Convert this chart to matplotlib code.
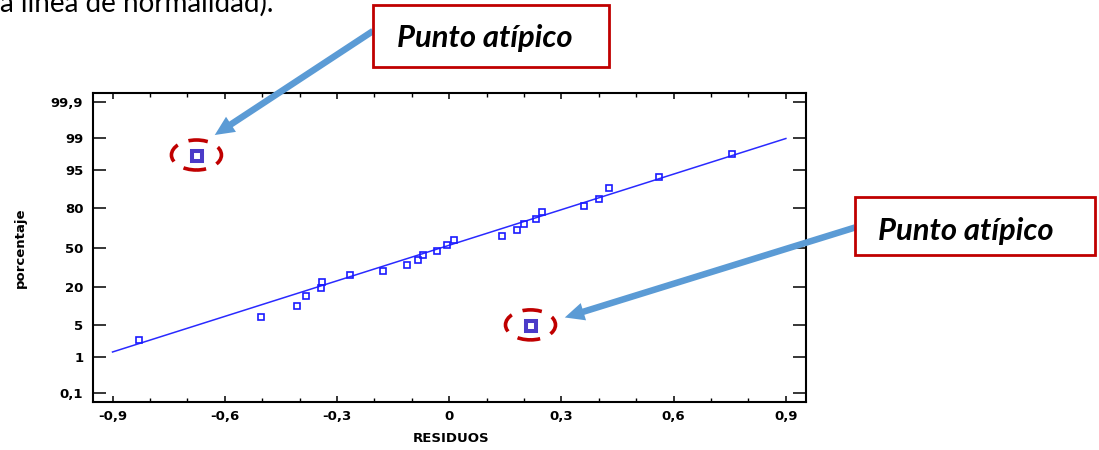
import numpy as np
import matplotlib
matplotlib.use("Agg")
import matplotlib.pyplot as plt
from matplotlib.patches import Ellipse, Rectangle
from matplotlib.ticker import FixedLocator, MultipleLocator, NullLocator
from matplotlib.transforms import ScaledTranslation
from statistics import NormalDist

# ---- data -------------------------------------------------------------
residuos = [-0.830, -0.504, -0.406, -0.384, -0.344, -0.340, -0.266, -0.176,
            -0.114, -0.083, -0.070, -0.032, -0.007, 0.013, 0.142, 0.180,
            0.200, 0.232, 0.247, 0.360, 0.400, 0.427, 0.561, 0.757]
porcentaje = [2.5, 6.9, 10.7, 15.3, 19.2, 22.9, 27.8, 31.0,
              35.6, 39.9, 43.5, 47.1, 52.5, 56.2, 60.0, 64.6,
              69.2, 72.4, 77.3, 81.0, 84.7, 89.5, 93.3, 97.6]

atipicos_x = [-0.673, 0.220]
atipicos_p = [97.4, 4.8]

# fitted normal reference line
ajuste_media = -0.019
ajuste_desv = 0.397
ajuste_rango = [-0.9, 0.9]

y_ticks = [0.1, 1, 5, 20, 50, 80, 95, 99, 99.9]
y_labels = ["0,1", "1", "5", "20", "50", "80", "95", "99", "99,9"]
x_ticks = [-0.9, -0.6, -0.3, 0.0, 0.3, 0.6, 0.9]
x_labels = ["-0,9", "-0,6", "-0,3", "0", "0,3", "0,6", "0,9"]

# ---- figure -----------------------------------------------------------
W, H = 1099, 450
fig = plt.figure(figsize=(W / 100, H / 100), dpi=100)
fig.patch.set_facecolor("white")


def fx(px):
    return px / W


def fy(py):
    return 1 - py / H


ax = fig.add_axes([fx(92.7), fy(401.7), (805.7 - 92.7) / W, (401.7 - 93.3) / H])

_nd = NormalDist()
_ppf = np.vectorize(lambda v: _nd.inv_cdf(v / 100.0), otypes=[float])
_cdf = np.vectorize(lambda v: _nd.cdf(v) * 100.0, otypes=[float])


def prob_forward(p):
    p = np.clip(np.asarray(p, dtype=float), 1e-7, 100 - 1e-7)
    return _ppf(p)


def prob_inverse(z):
    return _cdf(np.asarray(z, dtype=float))


ax.set_yscale("function", functions=(prob_forward, prob_inverse))

# fitted line
xl = np.linspace(ajuste_rango[0], ajuste_rango[1], 100)
pl = prob_inverse((xl - ajuste_media) / ajuste_desv)
ax.plot(xl, pl, color="#2a2aff", lw=1.1, zorder=2)

# regular points
ax.plot(residuos, porcentaje, ls="none", marker="s", ms=4.8, mew=1.2,
        mfc="none", mec="#1a1aff", zorder=3)

# outliers
ax.plot(atipicos_x, atipicos_p, ls="none", marker="s", ms=7.2, mew=2.9,
        mfc="white", mec="#4b3bc8", zorder=4)

ax.set_xlim(-0.953, 0.953)
zlim = 3.275
ax.set_ylim(prob_inverse(-zlim), prob_inverse(zlim))

ax.yaxis.set_major_locator(FixedLocator(y_ticks))
ax.yaxis.set_minor_locator(NullLocator())
ax.set_yticklabels(y_labels)
ax.xaxis.set_major_locator(FixedLocator(x_ticks))
ax.xaxis.set_minor_locator(MultipleLocator(0.1))
ax.set_xticklabels(x_labels)

tick_font = dict(family="DejaVu Sans", weight="bold", size=9.5)
for lab in ax.get_xticklabels() + ax.get_yticklabels():
    lab.set_fontproperties(matplotlib.font_manager.FontProperties(**tick_font))

ax.tick_params(axis="y", which="major", direction="in", length=9.4, width=1.1,
               left=True, right=True, pad=6.8, colors="black")
ax.tick_params(axis="x", which="major", direction="in", length=4.6, width=1.1,
               bottom=True, top=True, pad=6.3)
ax.tick_params(axis="x", which="minor", direction="in", length=2.6, width=1.0,
               bottom=True, top=True)
for s in ax.spines.values():
    s.set_linewidth(1.5)
    s.set_color("black")

ax.set_xlabel("RESIDUOS", fontdict=tick_font)
ax.set_ylabel("porcentaje", fontdict=tick_font)
ax.xaxis.label.set_va("center")
ax.yaxis.label.set_va("center")
ax.xaxis.set_label_coords(0.503, -0.118)
ax.yaxis.set_label_coords(-0.102, 0.5)

# ---- outlier highlights ----------------------------------------------
red = "#c00000"
blue_arrow = "#5b9bd5"
for x0, p0 in zip(atipicos_x, atipicos_p):
    tr = fig.dpi_scale_trans + ScaledTranslation(x0, p0, ax.transData)
    e = Ellipse((-0.01, 0.01), 0.50, 0.30, transform=tr, fill=False,
                edgecolor=red, lw=2.6, linestyle=(2.7, (5.4, 3.2)),
                zorder=5, clip_on=False)
    ax.add_artist(e)

# arrows: tail at a label box, head next to each outlier
arrow_tails = [(373, 31), (855, 227.5)]
arrow_offsets = [(0.173, 0.21), (0.333, 0.084)]  # inches from outlier
for (x0, p0), (tx, ty), (dx, dy) in zip(zip(atipicos_x, atipicos_p),
                                         arrow_tails, arrow_offsets):
    tr = ax.transData + ScaledTranslation(dx, dy, fig.dpi_scale_trans)
    ax.annotate("", xy=(x0, p0), xycoords=tr,
                xytext=(fx(tx), fy(ty)), textcoords="figure fraction",
                arrowprops=dict(arrowstyle="simple,head_length=14,head_width=13,tail_width=4.7",
                                mutation_scale=1, fc=blue_arrow, ec="none",
                                shrinkA=0, shrinkB=0),
                annotation_clip=False, zorder=6)

# label boxes
boxes = [(373, 5, 609, 67, 397, 47), (855, 196.7, 1095, 255, 878, 240)]
for (l, t, r, b, tx, ty) in boxes:
    rect = Rectangle((fx(l), fy(b)), fx(r) - fx(l), fy(t) - fy(b),
                     transform=fig.transFigure, facecolor="white",
                     edgecolor=red, lw=2.0, zorder=7)
    fig.add_artist(rect)
    fig.text(fx(tx), fy(ty), "Punto atípico", ha="left", va="baseline",
             family=["Lato", "DejaVu Sans"], weight="bold", style="italic",
             size=22.3, color="black", zorder=8)

# paragraph line above the chart
fig.text(fx(0), fy(12), "a línea de normalidad).", ha="left", va="baseline",
         family=["Lato", "DejaVu Sans"], size=20, color="black")

fig.savefig("out.png", dpi=100, facecolor="white")
